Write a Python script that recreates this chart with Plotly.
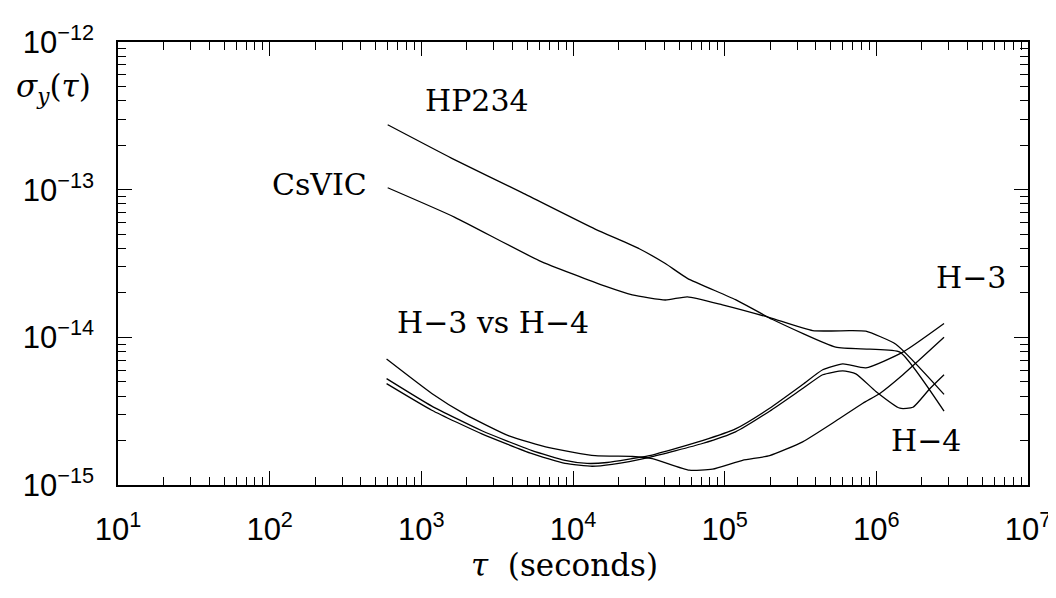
import plotly.graph_objects as go

# ---- data ----
hp234_tau = [600, 1589, 4613, 13990, 27350, 40630, 56770, 117900, 207100, 539900, 906100, 1.43e6, 2.795e6]
hp234_sig = [2.75e-13, 1.63e-13, 9.55e-14, 5.41e-14, 3.98e-14, 3.16e-14, 2.51e-14, 1.80e-14, 1.32e-14, 8.58e-15, 8.32e-15, 7.94e-15, 3.16e-15]

csvic_tau = [600, 1663, 5975, 16300, 24590, 40630, 56770, 96660, 197900, 380400, 668300, 852900, 1.345e6, 2.795e6]
csvic_sig = [1.03e-13, 6.50e-14, 3.31e-14, 2.22e-14, 1.94e-14, 1.79e-14, 1.88e-14, 1.66e-14, 1.36e-14, 1.11e-14, 1.11e-14, 1.10e-14, 8.98e-15, 4.11e-15]

h3h4_tau = [590, 1172, 1935, 3781, 6955, 13990, 24590, 33340, 58480, 83130, 131100, 197900, 326700, 539900, 814900, 1.055e6, 1.497e6, 2.795e6]
h3h4_sig = [7.13e-15, 4.17e-15, 3.02e-15, 2.15e-15, 1.79e-15, 1.58e-15, 1.56e-15, 1.51e-15, 1.26e-15, 1.28e-15, 1.47e-15, 1.58e-15, 1.96e-15, 2.71e-15, 3.58e-15, 4.17e-15, 5.58e-15, 1.0e-14]

h3_tau = [590, 1172, 2506, 5370, 8870, 12390, 16790, 31840, 71290, 117900, 197900, 326700, 443000, 600900, 852900, 1.497e6, 2.795e6]
h3_sig = [5.25e-15, 3.42e-15, 2.33e-15, 1.71e-15, 1.47e-15, 1.40e-15, 1.42e-15, 1.58e-15, 2.0e-15, 2.40e-15, 3.31e-15, 4.79e-15, 6.03e-15, 6.61e-15, 6.21e-15, 7.94e-15, 1.24e-14]

h4_tau = [590, 1172, 2506, 5370, 8870, 13370, 18110, 31840, 71290, 117900, 197900, 326700, 443000, 600900, 732600, 993000, 1.43e6, 1.743e6, 2.258e6, 2.795e6]
h4_sig = [4.86e-15, 3.21e-15, 2.22e-15, 1.63e-15, 1.40e-15, 1.34e-15, 1.38e-15, 1.54e-15, 1.91e-15, 2.29e-15, 3.16e-15, 4.50e-15, 5.58e-15, 5.93e-15, 5.66e-15, 4.30e-15, 3.31e-15, 3.36e-15, 4.50e-15, 5.58e-15]

x_tick_vals = [1e1, 1e2, 1e3, 1e4, 1e5, 1e6, 1e7]
x_tick_text = ["10<sup>1</sup>", "10<sup>2</sup>", "10<sup>3</sup>", "10<sup>4</sup>",
               "10<sup>5</sup>", "10<sup>6</sup>", "10<sup>7</sup>"]
y_tick_vals = [1e-15, 1e-14, 1e-13, 1e-12]
y_tick_text = ["10<sup>−15</sup>", "10<sup>−14</sup>", "10<sup>−13</sup>", "10<sup>−12</sup>"]

labels = ["HP234", "CsVIC", "H−3 vs H−4", "H−3", "H−4"]

# ---- figure ----
fig = go.Figure()
line_style = dict(color="black", width=1.3, shape="spline", smoothing=0.5)
for t, s in [(hp234_tau, hp234_sig), (csvic_tau, csvic_sig), (h3h4_tau, h3h4_sig),
             (h3_tau, h3_sig), (h4_tau, h4_sig)]:
    fig.add_trace(go.Scatter(x=t, y=s, mode="lines", line=line_style,
                             showlegend=False, hoverinfo="skip"))

def minor_vals(lo, hi):
    out = []
    for k in range(lo, hi):
        for m in range(2, 10):
            out.append(m * 10.0 ** k)
    return out

tick_font = dict(family="Liberation Sans", size=31, color="black")
axis_common = dict(
    type="log", showline=True, linecolor="black", linewidth=1.5, mirror="allticks",
    ticks="inside", ticklen=14, tickwidth=1.3, tickcolor="black", showgrid=False,
    zeroline=False, tickfont=tick_font,
)

fig.update_xaxes(
    **axis_common, range=[1, 7], tickmode="array", tickvals=x_tick_vals, ticktext=x_tick_text,
    ticklabelstandoff=16,
    minor=dict(ticks="inside", ticklen=8, tickwidth=1.1, tickcolor="black",
               tickmode="array", tickvals=minor_vals(1, 7), showgrid=False),
)
fig.update_yaxes(
    **axis_common, range=[-15, -12], tickmode="array", tickvals=y_tick_vals, ticktext=y_tick_text,
    ticklabelstandoff=16,
    minor=dict(ticks="inside", ticklen=8, tickwidth=1.1, tickcolor="black",
               tickmode="array", tickvals=minor_vals(-15, -12), showgrid=False),
)

serif = "DejaVu Serif"
label_pos = [(0.3945, 0.868), (0.221, 0.678), (0.412, 0.367), (0.937, 0.4676), (0.888, 0.1007)]
for txt, (xp, yp) in zip(labels, label_pos):
    fig.add_annotation(text=txt, x=xp, y=yp, xref="paper", yref="paper",
                       showarrow=False, xanchor="center", yanchor="middle",
                       font=dict(family=serif, size=30, color="black"))

fig.add_annotation(text="<i>σ</i><sub><i>y</i></sub>(<i>τ</i>)", x=-0.0714, y=0.895,
                   xref="paper", yref="paper", showarrow=False,
                   xanchor="center", yanchor="middle",
                   font=dict(family=serif, size=31, color="black"))
fig.add_annotation(text="<i>τ</i>  (seconds)", x=0.491, y=-0.181,
                   xref="paper", yref="paper", showarrow=False,
                   xanchor="center", yanchor="middle",
                   font=dict(family=serif, size=31, color="black"))

fig.update_layout(
    width=1056, height=598,
    margin=dict(l=110, r=36, t=30, b=121),
    paper_bgcolor="white", plot_bgcolor="white",
)

fig.write_html("out.html")
